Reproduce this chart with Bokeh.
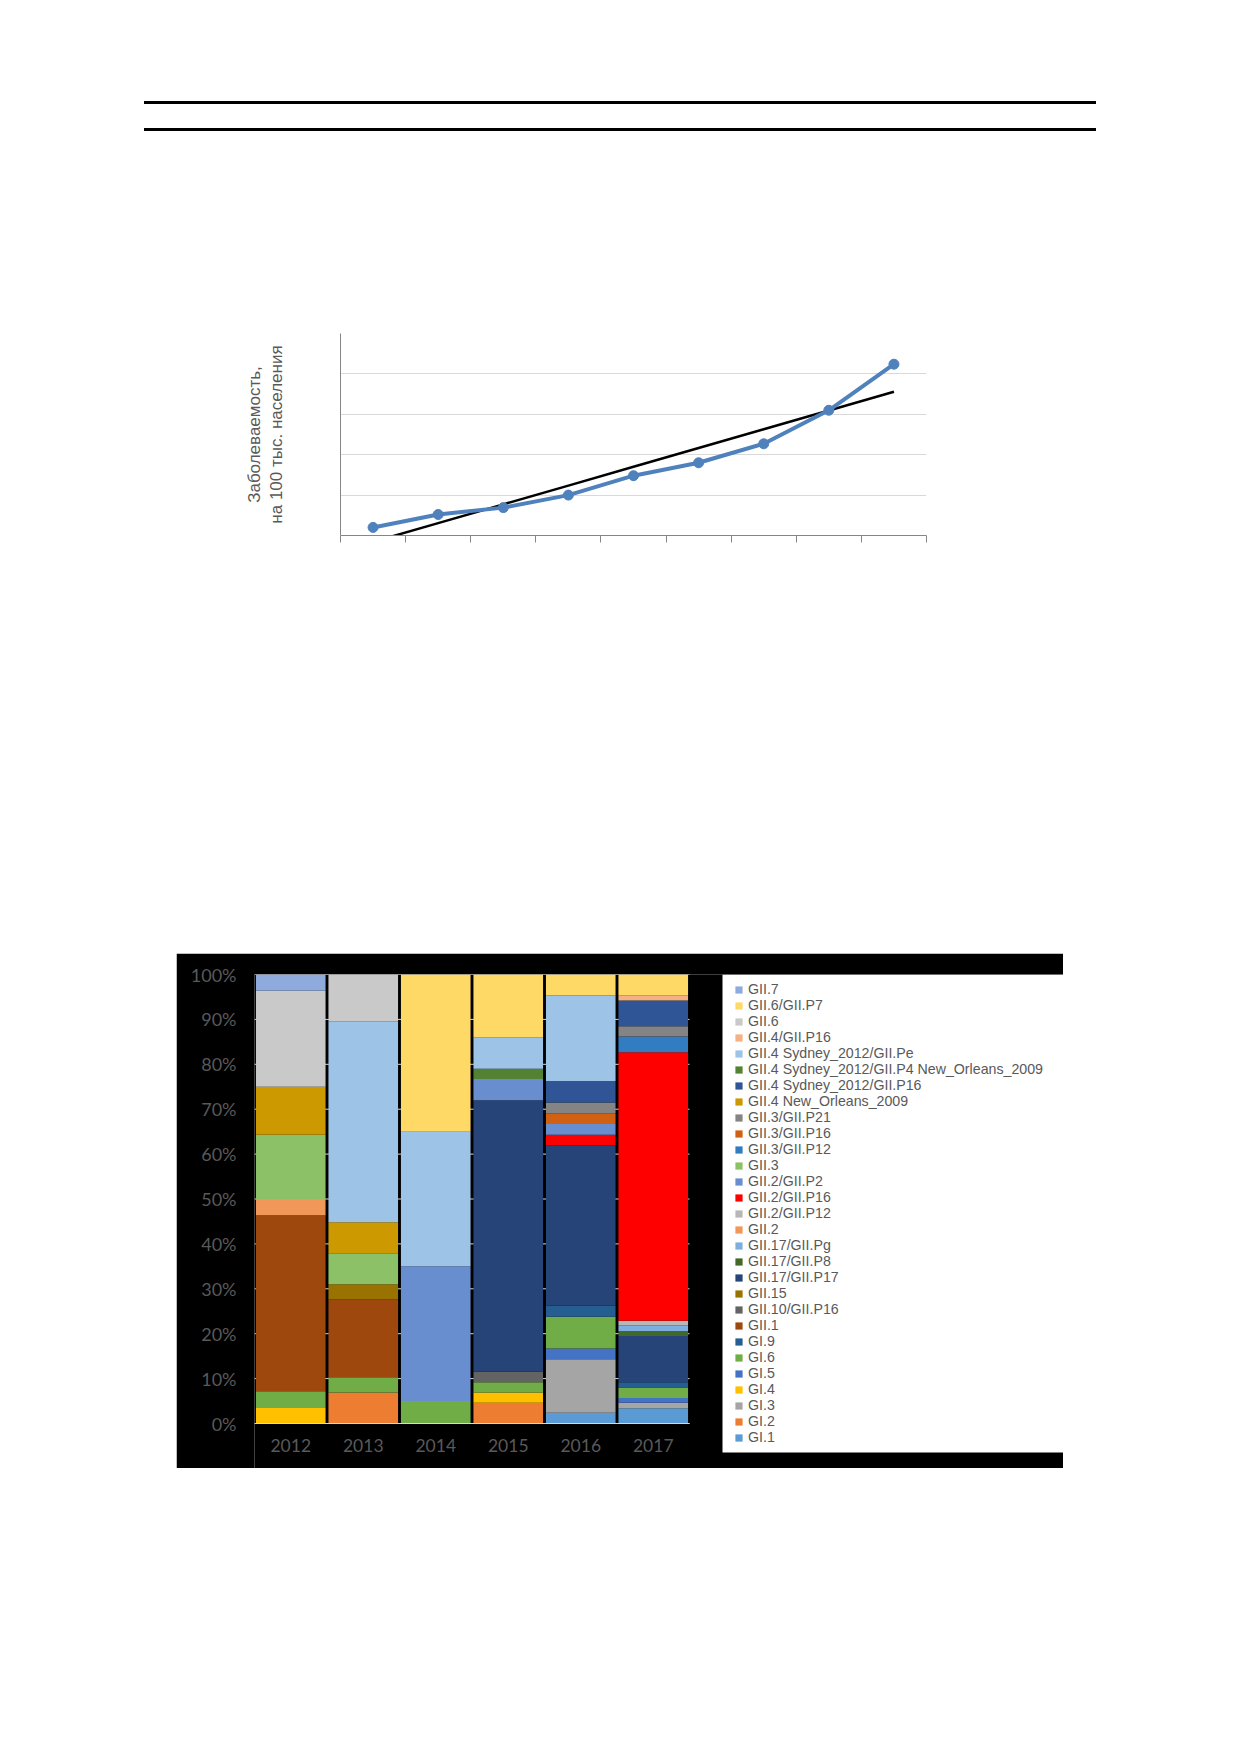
import numpy as np
from bokeh.plotting import figure
from bokeh.models import (ColumnDataSource, Range1d, FixedTicker, CustomLabelingPolicy,
                          Legend, LegendItem, Div, Spacer, BoxAnnotation)
from bokeh.layouts import column, row
from bokeh.embed import file_html
from bokeh.resources import INLINE

# ---------------- line chart data ----------------
periods = [1, 2, 3, 4, 5, 6, 7, 8, 9]
incidence = [0.20, 0.52, 0.69, 1.00, 1.48, 1.80, 2.27, 3.10, 4.24]
incidence_ticks = [0, 1, 2, 3, 4, 5]
line_y_label = "Заболеваемость,\nна 100 тыс. населения"

# ---------------- stacked bar data ----------------
years = ["2012", "2013", "2014", "2015", "2016", "2017"]
# stacking order, bottom -> top
genotypes = [
    "GI.1", "GI.2", "GI.3", "GI.4", "GI.5", "GI.6", "GI.9", "GII.1",
    "GII.10/GII.P16", "GII.15", "GII.17/GII.P17", "GII.17/GII.P8",
    "GII.17/GII.Pg", "GII.2", "GII.2/GII.P12", "GII.2/GII.P16",
    "GII.2/GII.P2", "GII.3", "GII.3/GII.P12", "GII.3/GII.P16",
    "GII.3/GII.P21", "GII.4 New_Orleans_2009", "GII.4 Sydney_2012/GII.P16",
    "GII.4 Sydney_2012/GII.P4 New_Orleans_2009", "GII.4 Sydney_2012/GII.Pe",
    "GII.4/GII.P16", "GII.6", "GII.6/GII.P7", "GII.7",
]
genotype_colors = [
    "#5B9BD5", "#ED7D31", "#A5A5A5", "#FFC000", "#4472C4", "#70AD47", "#255E91", "#9E480E",
    "#636363", "#997300", "#264478", "#43682B",
    "#7CAFDD", "#F1975A", "#B7B7B7", "#FF0000",
    "#698ED0", "#8CC168", "#327DC2", "#D26012",
    "#848484", "#CC9A00", "#2F5597",
    "#548235", "#9DC3E6",
    "#F4B183", "#C9C9C9", "#FFD966", "#8FAADC",
]
# percentage shares per year
share_2012 = {"GI.4": 3.6, "GI.6": 3.6, "GII.1": 39.2, "GII.2": 3.6, "GII.3": 14.3,
              "GII.4 New_Orleans_2009": 10.7, "GII.6": 21.4, "GII.7": 3.6}
share_2013 = {"GI.2": 6.9, "GI.6": 3.4, "GII.1": 17.3, "GII.15": 3.4, "GII.3": 6.9,
              "GII.4 New_Orleans_2009": 6.9, "GII.4 Sydney_2012/GII.Pe": 44.8, "GII.6": 10.4}
share_2014 = {"GI.6": 5.0, "GII.2/GII.P2": 30.0, "GII.4 Sydney_2012/GII.Pe": 30.0,
              "GII.6/GII.P7": 35.0}
share_2015 = {"GI.2": 4.6, "GI.4": 2.3, "GI.6": 2.3, "GII.10/GII.P16": 2.3,
              "GII.17/GII.P17": 60.5, "GII.2/GII.P2": 4.7,
              "GII.4 Sydney_2012/GII.P4 New_Orleans_2009": 2.3,
              "GII.4 Sydney_2012/GII.Pe": 7.0, "GII.6/GII.P7": 14.0}
share_2016 = {"GI.1": 2.4, "GI.3": 11.9, "GI.5": 2.4, "GI.6": 7.1, "GI.9": 2.4,
              "GII.17/GII.P17": 35.7, "GII.2/GII.P16": 2.4, "GII.2/GII.P2": 2.4,
              "GII.3/GII.P16": 2.4, "GII.3/GII.P21": 2.4, "GII.4 Sydney_2012/GII.P16": 4.8,
              "GII.4 Sydney_2012/GII.Pe": 19.0, "GII.6/GII.P7": 4.7}
share_2017 = {"GI.1": 3.4, "GI.3": 1.2, "GI.5": 1.1, "GI.6": 2.3, "GI.9": 1.2,
              "GII.17/GII.P17": 10.3, "GII.17/GII.P8": 1.1, "GII.17/GII.Pg": 1.2,
              "GII.2/GII.P12": 1.1, "GII.2/GII.P16": 59.8, "GII.3/GII.P12": 3.5,
              "GII.3/GII.P21": 2.3, "GII.4 Sydney_2012/GII.P16": 5.7,
              "GII.4/GII.P16": 1.2, "GII.6/GII.P7": 4.6}
pct_ticks = [0, 10, 20, 30, 40, 50, 60, 70, 80, 90, 100]


def no_labels():
    return CustomLabelingPolicy(code="return new Set()")


# ---------------- page header rules ----------------
header = Div(
    text=('<div style="position:relative;width:1231px;height:150px;">'
          '<div style="position:absolute;left:144px;top:93px;width:952px;height:3px;background:#000;"></div>'
          '<div style="position:absolute;left:144px;top:120px;width:952px;height:3px;background:#000;"></div>'
          '</div>'),
    width=1231, height=150, margin=(0, 0, 0, 0))

# ---------------- line chart ----------------
lp = figure(output_backend="svg", toolbar_location=None,
            frame_width=586, frame_height=202,
            min_border_left=110, min_border_right=14,
            min_border_top=175, min_border_bottom=65,
            x_range=Range1d(0.5, 9.5), y_range=Range1d(0, 5),
            background_fill_color="white", border_fill_color="white")
lp.outline_line_color = None
lp.xgrid.visible = False
lp.ygrid.ticker = FixedTicker(ticks=incidence_ticks)
lp.ygrid.grid_line_color = "#D9D9D9"
lp.ygrid.grid_line_width = 1

xa = lp.xaxis[0]
xa.ticker = FixedTicker(ticks=[p - 0.5 for p in periods] + [periods[-1] + 0.5])
xa.major_label_policy = no_labels()
xa.major_label_standoff = 0
xa.major_tick_out = 7
xa.major_tick_in = 0
xa.minor_tick_line_color = None
xa.axis_line_color = "#868686"
xa.major_tick_line_color = "#868686"

ya = lp.yaxis[0]
ya.ticker = FixedTicker(ticks=incidence_ticks)
ya.major_label_policy = no_labels()
ya.major_label_standoff = 0
ya.major_tick_out = 0
ya.major_tick_in = 0
ya.minor_tick_line_color = None
ya.axis_line_color = "#868686"
ya.axis_label = line_y_label
ya.axis_label_standoff = 45
ya.axis_label_text_font = "Liberation Sans"
ya.axis_label_text_font_size = "17px"
ya.axis_label_text_font_style = "normal"
ya.axis_label_text_color = "#595959"

coef = np.polyfit(periods, incidence, 1)
trend = [coef[0] * p + coef[1] for p in periods]
lp.line(periods, trend, line_color="black", line_width=2.5)
lp.line(periods, incidence, line_color="#4F81BD", line_width=4)
lp.scatter(periods, incidence, marker="circle", size=10,
           fill_color="#4F81BD", line_color="#4F81BD")

# ---------------- stacked bar chart ----------------
shares = [share_2012, share_2013, share_2014, share_2015, share_2016, share_2017]
year_pos = list(range(len(years)))
data = {"pos": year_pos}
for g in genotypes:
    data[g] = [s.get(g, 0.0) for s in shares]
src = ColumnDataSource(data)

cat_px = 72.5            # pixel width of one year slot
plot_px = 449            # pixel height of 0..100 %
frame_w, frame_h = 809, 494
below_px = frame_h - plot_px      # black band under the 0 % line (labels live here)
gap_px = 468 - len(years) * cat_px  # black gap between bars and legend box
legend_bottom_px = 16               # black band under the legend box
bp = figure(output_backend="svg", toolbar_location=None,
            x_range=Range1d(-0.5, -0.5 + frame_w / cat_px),
            y_range=Range1d(-100.0 * below_px / plot_px, 100),
            frame_width=frame_w, frame_height=frame_h,
            min_border_left=78, min_border_right=0,
            min_border_top=21, min_border_bottom=0,
            background_fill_color="black", border_fill_color="black")
bp.outline_line_color = None
bp.xgrid.visible = False
bp.ygrid.visible = False

grid = bp.segment(x0=[-0.5] * len(pct_ticks), x1=[len(years) - 0.5] * len(pct_ticks),
                  y0=pct_ticks, y1=pct_ticks, line_color="#D9D9D9", line_width=1)
grid.level = "underlay"

renderers = bp.vbar_stack(genotypes, x="pos", width=0.96, color=genotype_colors,
                          source=src, line_color=None)

bya = bp.yaxis[0]
bya.ticker = FixedTicker(ticks=pct_ticks)
bya.major_label_overrides = {t: f"{t}%" for t in pct_ticks}
bya.axis_line_color = None
bya.major_tick_line_color = None
bya.minor_tick_line_color = None
bya.major_label_standoff = 12
bya.major_label_text_font = "Lato"
bya.major_label_text_font_size = "18px"
bya.major_label_text_color = "#595959"

bxa = bp.xaxis[0]
bxa.ticker = FixedTicker(ticks=year_pos)
bxa.major_label_overrides = {i: y for i, y in zip(year_pos, years)}
bxa.fixed_location = 0
bxa.bounds = (-0.5, len(years) - 0.5)
bxa.axis_line_color = "#D9D9D9"
bxa.major_tick_line_color = None
bxa.minor_tick_line_color = None
bxa.major_label_standoff = 9
bxa.major_label_text_font = "Lato"
bxa.major_label_text_font_size = "17.5px"
bxa.major_label_text_color = "#595959"

# white legend panel
legend_box = BoxAnnotation(left=len(years) - 0.5 + gap_px / cat_px,
                           bottom=-100.0 * (below_px - legend_bottom_px) / plot_px,
                           fill_color="white", fill_alpha=1.0, line_color=None)
bp.add_layout(legend_box)

items = [LegendItem(label=g, renderers=[r]) for g, r in zip(genotypes, renderers)]
items.reverse()
legend = Legend(items=items, location=(480, legend_bottom_px + 7), orientation="vertical",
                background_fill_alpha=0.0, border_line_color=None,
                padding=7, margin=0, spacing=0,
                glyph_width=9, glyph_height=9, label_height=16, label_width=20,
                label_standoff=5, label_text_font="Liberation Sans",
                label_text_font_size="14.2px", label_text_color="#595959")
bp.add_layout(legend)

page = column(
    Spacer(width=1231, height=8),
    header,
    row(Spacer(width=230, height=442), lp),
    Spacer(width=1231, height=353),
    row(Spacer(width=176, height=515), bp),
)

open("out.html", "w").write(file_html(page, INLINE))
